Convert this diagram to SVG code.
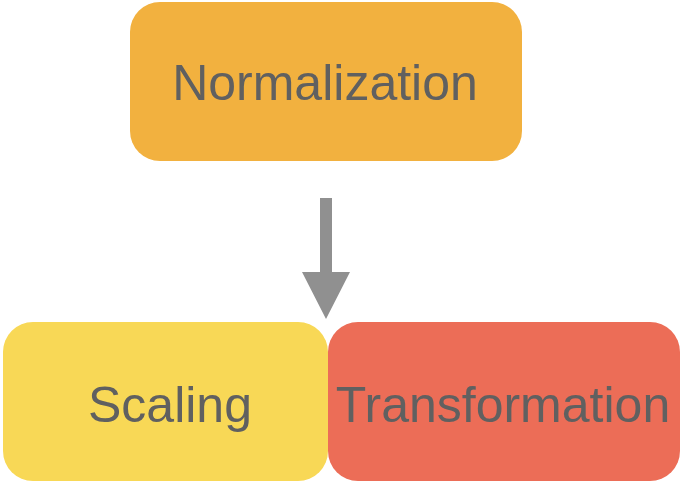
<svg xmlns="http://www.w3.org/2000/svg" width="682" height="484" viewBox="0 0 682 484">
<style>
.lbl{font-family:"Liberation Sans",Arial,sans-serif;font-size:50px;fill:#606060;text-anchor:middle}
</style>
<rect width="682" height="484" fill="#ffffff"/>
<g id="connectors">
<path d="M320,198 H332 V272 H350 L326,319 L302,272 H320 Z" fill="#909090"/>
</g>
<g id="normalization">
<rect x="130" y="2" width="392" height="159" rx="30" fill="#F2B13F"/>
<text class="lbl" x="325" y="100">Normalization</text>
</g>
<g id="scaling">
<rect x="3" y="322" width="325" height="159" rx="30" fill="#F8D856"/>
<text class="lbl" x="170" y="422">Scaling</text>
</g>
<g id="transformation">
<rect x="328" y="322" width="352" height="159" rx="30" fill="#EC6D57"/>
<text class="lbl" x="503" y="422">Transformation</text>
</g>
</svg>
